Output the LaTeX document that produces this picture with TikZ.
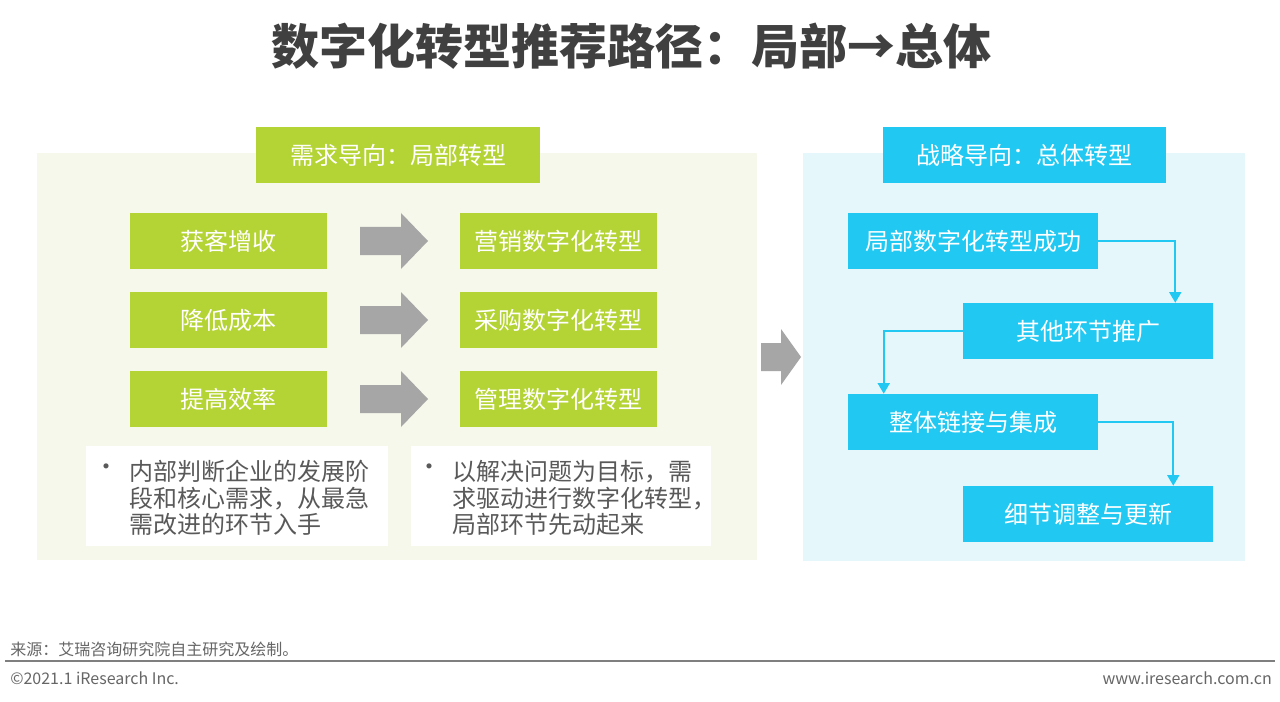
\documentclass[tikz,border=0pt]{standalone}
\usepackage{fontspec}
\setmainfont{Noto Sans CJK SC}
\usetikzlibrary{arrows.meta,calc}
\definecolor{lime}{HTML}{B4D334}
\definecolor{cyanbox}{HTML}{20C8F2}
\definecolor{lbg}{HTML}{F5F8EB}
\definecolor{rbg}{HTML}{E6F7FC}
\definecolor{garrow}{HTML}{A6A6A6}
\definecolor{titlec}{HTML}{404040}
\definecolor{textc}{HTML}{595959}
\definecolor{footc}{HTML}{666666}
\definecolor{rulec}{HTML}{7F7F7F}
\begin{document}
\begin{tikzpicture}[x=0.75pt,y=-0.75pt,
  box/.style={rectangle, inner sep=0pt, text=white, font=\fontsize{18}{20}\selectfont},
  gbox/.style={box, fill=lime, minimum width=197*0.75pt, minimum height=56*0.75pt},
  cbox/.style={box, fill=cyanbox, minimum width=250*0.75pt, minimum height=56*0.75pt},
  panel/.style={rectangle, inner sep=0pt},
  wbox/.style={rectangle, inner sep=0pt, fill=white, minimum height=100*0.75pt},
  btext/.style={inner sep=0pt, align=left, text=textc, font=\fontsize{18}{19.9}\selectfont},
  bullet/.style={inner sep=0pt, text=textc, font=\fontsize{18}{20}\selectfont},
  bigarrow/.style={fill=garrow},
  conn/.style={draw=cyanbox, line width=1.5pt, -{Triangle[width=9pt,length=8pt]}},
  foot/.style={inner sep=0pt, text=footc, font=\fontsize{12}{14}\selectfont}
]
\useasboundingbox (0,0) rectangle (1280,702);
\fill[white] (0,0) rectangle (1280,702);

% title
\node[inner sep=0pt, text=titlec, font=\fontsize{36}{40}\bfseries\selectfont] (title) at (631,46) {数字化转型推荐路径：局部→总体};

% panels
\node[panel, fill=lbg, minimum width=720*0.75pt, minimum height=407*0.75pt] (lp) at (397,356.5) {};
\node[panel, fill=rbg, minimum width=442*0.75pt, minimum height=408*0.75pt] (rp) at (1024,357) {};

% left header
\node[box, fill=lime, minimum width=284*0.75pt, minimum height=56*0.75pt] (lh) at (398,155) {需求导向：局部转型};

% left rows
\node[gbox] (a1) at (228.5,241) {获客增收};
\node[gbox] (a2) at (228.5,320) {降低成本};
\node[gbox] (a3) at (228.5,399) {提高效率};
\node[gbox] (t1) at (558.5,241) {营销数字化转型};
\node[gbox] (t2) at (558.5,320) {采购数字化转型};
\node[gbox] (t3) at (558.5,399) {管理数字化转型};

\foreach \c in {241,320,399}{
  \fill[bigarrow] (360,\c-14) -- (401,\c-14) -- (401,\c-28) -- (428,\c) -- (401,\c+28) -- (401,\c+14) -- (360,\c+14) -- cycle;
}

% white text boxes
\node[wbox, minimum width=302*0.75pt] (w1) at (237,496) {};
\node[wbox, minimum width=300*0.75pt] (w2) at (561,496) {};
\node[bullet] (b1) at (106,470) {•};
\node[btext, anchor=west] (x1) at (129,498) {内部判断企业的发展阶\\段和核心需求，从最急\\需改进的环节入手};
\node[bullet] (b2) at (429,470) {•};
\node[btext, anchor=west] (x2) at (452,498) {以解决问题为目标，需\\求驱动进行数字化转型，\\局部环节先动起来};

% middle arrow
\fill[bigarrow] (761,343) -- (781,343) -- (781,329) -- (801,357) -- (781,385) -- (781,371) -- (761,371) -- cycle;

% right header
\node[box, fill=cyanbox, minimum width=283*0.75pt, minimum height=56*0.75pt] (rh) at (1024.5,155) {战略导向：总体转型};

% right flow
\node[cbox] (s1) at (973,241) {局部数字化转型成功};
\node[cbox] (s2) at (1088,331) {其他环节推广};
\node[cbox] (s3) at (973,422) {整体链接与集成};
\node[cbox] (s4) at (1088,514) {细节调整与更新};

\draw[conn] (s1.east) -| ($(s2.north east)+(-38,0)$);
\draw[conn] (s2.west) -| ($(s3.north west)+(36,0)$);
\draw[conn] (s3.east) -| ($(s4.north east)+(-40,0)$);

% footer
\node[foot, anchor=west] (src) at (10,649) {来源：艾瑞咨询研究院自主研究及绘制。};
\coordinate (r1) at (5,661);
\coordinate (r2) at (1275,661);
\draw[rulec, line width=1.5pt] (r1) -- (r2);
\node[foot, anchor=west] (copy) at (10,678) {©2021.1 iResearch Inc.};
\node[foot, anchor=east] (web) at (1272,678) {www.iresearch.com.cn};
\end{tikzpicture}
\end{document}
